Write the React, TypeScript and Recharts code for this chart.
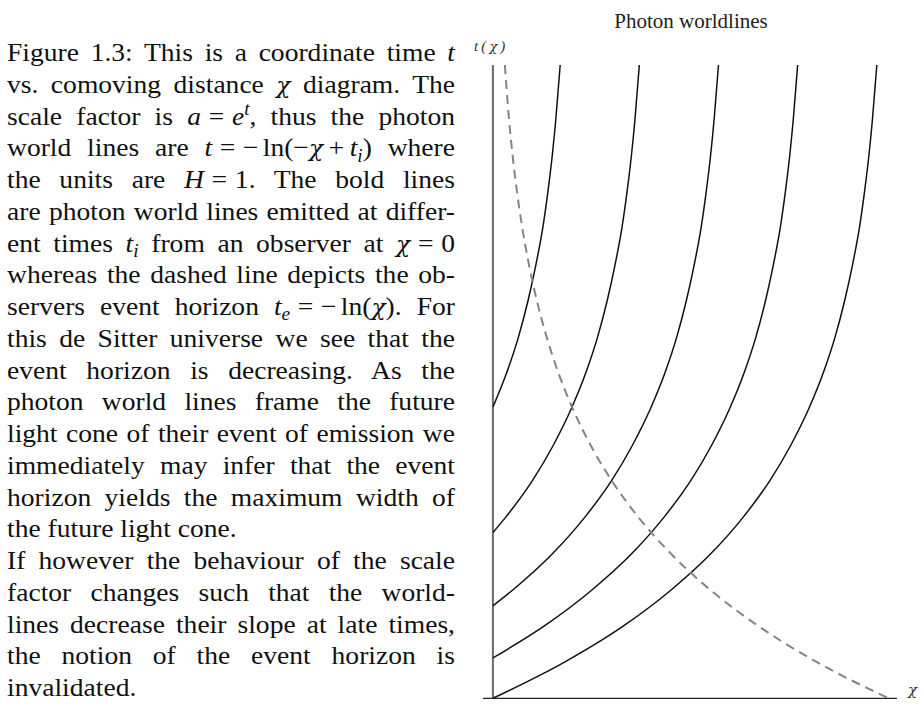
import { CSSProperties, ReactNode } from "react";
import { Line, LineChart, ReferenceLine, XAxis, YAxis } from "recharts";

// photon worldlines t = -ln(t_i - chi), one pair of arrays per emission time
const chi02 = [0, 0.035, 0.065, 0.089, 0.109, 0.126, 0.139, 0.15, 0.159, 0.17];
const t02 = [1.609, 1.8, 2.0, 2.2, 2.4, 2.6, 2.8, 3.0, 3.2, 3.5];

const chi04 = [0, 0.032, 0.099, 0.153, 0.198, 0.235, 0.265, 0.289, 0.309, 0.326, 0.339, 0.35, 0.359, 0.37];
const t04 = [0.916, 1.0, 1.2, 1.4, 1.6, 1.8, 2.0, 2.2, 2.4, 2.6, 2.8, 3.0, 3.2, 3.5];

const chi06 = [0, 0.051, 0.151, 0.232, 0.299, 0.353, 0.398, 0.435, 0.465, 0.489, 0.509, 0.526, 0.539, 0.55, 0.559, 0.57];
const t06 = [0.511, 0.6, 0.8, 1.0, 1.2, 1.4, 1.6, 1.8, 2.0, 2.2, 2.4, 2.6, 2.8, 3.0, 3.2, 3.5];

const chi08 = [0, 0.13, 0.251, 0.351, 0.432, 0.499, 0.553, 0.598, 0.635, 0.665, 0.689, 0.709, 0.726, 0.739, 0.75, 0.759, 0.77];
const t08 = [0.223, 0.4, 0.6, 0.8, 1.0, 1.2, 1.4, 1.6, 1.8, 2.0, 2.2, 2.4, 2.6, 2.8, 3.0, 3.2, 3.5];

const chi10 = [0, 0.181, 0.33, 0.451, 0.551, 0.632, 0.699, 0.753, 0.798, 0.835, 0.865, 0.889, 0.909, 0.926, 0.939, 0.95, 0.959, 0.97];
const t10 = [0, 0.2, 0.4, 0.6, 0.8, 1.0, 1.2, 1.4, 1.6, 1.8, 2.0, 2.2, 2.4, 2.6, 2.8, 3.0, 3.2, 3.5];

// event horizon t_e = -ln(chi)
const horizonChi = [0.0302, 0.0408, 0.0498, 0.0608, 0.0743, 0.0907, 0.1108, 0.1353, 0.1653, 0.2019, 0.2466, 0.3012, 0.3679, 0.4493, 0.5488, 0.6703, 0.8187, 1.0];
const horizonT = [3.5, 3.2, 3.0, 2.8, 2.6, 2.4, 2.2, 2.0, 1.8, 1.6, 1.4, 1.2, 1.0, 0.8, 0.6, 0.4, 0.2, 0];

const zip = (chi: number[], t: number[]) => chi.map((c, i) => ({ chi: c, t: t[i] }));

const worldlines = [
  zip(chi02, t02),
  zip(chi04, t04),
  zip(chi06, t06),
  zip(chi08, t08),
  zip(chi10, t10),
];
const horizon = zip(horizonChi, horizonT);

const serif = "'Liberation Serif', 'Times New Roman', serif";

const Sub = ({ children }: { children: ReactNode }) => (
  <i style={{ fontSize: "0.7em", position: "relative", top: "0.3em" }}>{children}</i>
);
const Sup = ({ children }: { children: ReactNode }) => (
  <i style={{ fontSize: "0.7em", position: "relative", top: "-0.5em" }}>{children}</i>
);
// math operator with fixed side bearings, so justification leaves it alone
const Op = ({ children, gap = 0.28 }: { children: ReactNode; gap?: number }) => (
  <span style={{ margin: `0 ${gap}em` }}>{children}</span>
);
const Chi = () => <i style={{ fontFamily: "'DejaVu Serif', serif", fontSize: "0.85em" }}>χ</i>;

const LINE_H = 31.75;
const STRETCH = 1.06;

const Row = ({ children, last }: { children: ReactNode; last?: boolean }) => {
  const style: CSSProperties = {
    height: LINE_H,
    lineHeight: `${LINE_H}px`,
    textAlign: "justify",
    textAlignLast: last ? "left" : "justify",
  };
  return <div style={style}>{children}</div>;
};

const Caption = () => (
  <div
    style={{
      position: "absolute",
      left: 7,
      top: 37,
      width: 448 / STRETCH,
      transform: `scaleX(${STRETCH})`,
      transformOrigin: "left top",
      fontFamily: serif,
      fontSize: 26,
      color: "#111",
    }}
  >
    <Row>Figure 1.3: This is a coordinate time <i>t</i></Row>
    <Row>vs. comoving distance <Chi /> diagram. The</Row>
    <Row>
      scale factor is <i>a</i><Op>=</Op><i>e</i><Sup>t</Sup>, thus the photon
    </Row>
    <Row>
      world lines are <i>t</i><Op>=</Op>−<span style={{ marginLeft: "0.15em" }}>ln(−<Chi /></span><Op gap={0.2}>+</Op><i>t</i><Sub>i</Sub>) where
    </Row>
    <Row>
      the units are <i>H</i><Op>=</Op>1. The bold lines
    </Row>
    <Row>are photon world lines emitted at differ-</Row>
    <Row>
      ent times <i>t</i><Sub>i</Sub> from an observer at <Chi /><Op>=</Op>0
    </Row>
    <Row>whereas the dashed line depicts the ob-</Row>
    <Row>
      servers event horizon <i>t</i><Sub>e</Sub><Op>=</Op>−<span style={{ marginLeft: "0.15em" }}>ln(<Chi />).</span> For
    </Row>
    <Row>this de Sitter universe we see that the</Row>
    <Row>event horizon is decreasing. As the</Row>
    <Row>photon world lines frame the future</Row>
    <Row>light cone of their event of emission we</Row>
    <Row>immediately may infer that the event</Row>
    <Row>horizon yields the maximum width of</Row>
    <Row last>the future light cone.</Row>
    <Row>If however the behaviour of the scale</Row>
    <Row>factor changes such that the world-</Row>
    <Row>lines decrease their slope at late times,</Row>
    <Row>the notion of the event horizon is</Row>
    <Row last>invalidated.</Row>
  </div>
);

const WorldlineChart = () => (
  <div style={{ position: "absolute", left: 0, top: 0 }}>
    <LineChart width={922} height={704} margin={{ top: 65, right: 25, bottom: 5.7, left: 483 }}>
      <XAxis dataKey="chi" type="number" domain={[-0.025, 1.021]} allowDataOverflow hide />
      <YAxis dataKey="t" type="number" domain={[0, 3.5]} allowDataOverflow hide />
      <ReferenceLine y={0} stroke="#222" strokeWidth={1.2} />
      <ReferenceLine
        segment={[
          { x: 0, y: 0 },
          { x: 0, y: 3.5 },
        ]}
        stroke="#6a6a6a"
        strokeWidth={2}
      />
      {worldlines.map((pts, i) => (
        <Line
          key={i}
          data={pts}
          dataKey="t"
          type="monotone"
          stroke="#111"
          strokeWidth={1.5}
          dot={false}
          isAnimationActive={false}
        />
      ))}
      <Line
        data={horizon}
        dataKey="t"
        type="monotone"
        stroke="#858585"
        strokeWidth={2}
        strokeDasharray="9 6"
        dot={false}
        isAnimationActive={false}
      />
    </LineChart>
  </div>
);

export default function App() {
  return (
    <div style={{ position: "absolute", left: 0, top: 0, width: 922, height: 704, background: "#fff", overflow: "hidden" }}>
      <Caption />
      <WorldlineChart />
      <div
        style={{
          position: "absolute",
          left: 691,
          top: 9,
          transform: "translateX(-50%)",
          fontFamily: serif,
          fontSize: 21,
          color: "#222",
          whiteSpace: "nowrap",
          lineHeight: "24px",
        }}
      >
        Photon worldlines
      </div>
      <div
        style={{
          position: "absolute",
          left: 474,
          top: 37,
          fontFamily: serif,
          fontStyle: "italic",
          fontSize: 15,
          letterSpacing: 3,
          color: "#333",
          lineHeight: "18px",
        }}
      >
        t(<span style={{ fontFamily: "'DejaVu Serif', serif", fontSize: "0.9em" }}>χ</span>)
      </div>
      <div
        style={{
          position: "absolute",
          left: 908,
          top: 680,
          fontFamily: "'DejaVu Serif', serif",
          fontStyle: "italic",
          fontSize: 15,
          color: "#333",
          lineHeight: "20px",
        }}
      >
        χ
      </div>
    </div>
  );
}
